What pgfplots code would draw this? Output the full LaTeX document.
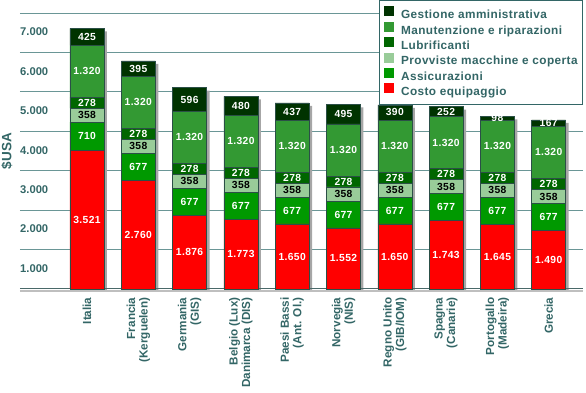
\documentclass[border=0pt]{standalone}
\usepackage{pgfplots}
\pgfplotsset{compat=1.18}
\usepackage{pgfplotstable}
\usepackage{fontspec}
\setmainfont{Liberation Sans}
\newfontfamily\lsfont{Liberation Sans}[LetterSpace=3.5]
\definecolor{tealtxt}{HTML}{336666}
\definecolor{gridc}{HTML}{6A9696}
\definecolor{cGest}{HTML}{003300}
\definecolor{cManu}{HTML}{339933}
\definecolor{cLubr}{HTML}{006600}
\definecolor{cProv}{HTML}{99CC99}
\definecolor{cAssi}{HTML}{009900}
\definecolor{cCost}{HTML}{FF0000}
\definecolor{barline}{HTML}{2B4F47}

\pgfplotstableread{
x c a p l m g t
0 3521 710 358 278 1320 425 6612
1 2760 677 358 278 1320 395 5788
2 1876 677 358 278 1320 596 5105
3 1773 677 358 278 1320 480 4886
4 1650 677 358 278 1320 437 4720
5 1552 677 358 278 1320 495 4680
6 1650 677 358 278 1320 390 4673
7 1743 677 358 278 1320 252 4628
8 1645 677 358 278 1320 98 4376
9 1490 677 358 278 1320 167 4290
}\data

\pgfplotsset{
  geom/.style={scale only axis, width=563pt, height=276pt,
    xmin=-1.306, xmax=9.669, ymin=0, ymax=7000,
    at={(20pt,104pt)}, anchor=south west, clip=false,
    axis line style={draw=none}, tick style={draw=none}, major tick length=0pt},
  seg/.style={fill=#1, draw=barline, line width=0.5pt},
}

\begin{document}
\begin{tikzpicture}
\useasboundingbox (0,0) rectangle (586pt,393pt);
\begin{axis}[geom, ybar, bar width=34pt,
  ytick={1000,2000,...,7000}, yticklabels={}, xtick=\empty,
  ymajorgrids, grid style={draw=gridc, line width=0.8pt}]
\addplot[fill=black!35, draw=none, xshift=3pt, yshift=-3pt] table[x=x,y=t]{\data};
\draw[black!25, line width=2pt] ([yshift=-2pt]axis cs:-1.306,0) -- ([yshift=-2pt]axis cs:9.669,0);
\draw[gridc!70!black, line width=1pt] (axis cs:-1.306,0) -- (axis cs:9.669,0);
\end{axis}
\begin{axis}[geom, ybar stacked, bar width=34pt,
  ytick={1000,2000,...,7000},
  yticklabels={1.000,2.000,3.000,4.000,5.000,6.000,7.000},
  yticklabel style={anchor=west, yshift=-19pt, font=\fontsize{11.2}{13}\selectfont\bfseries, text=tealtxt, inner sep=0pt},
  xtick={0,...,9},
  xticklabels={Italia,{Francia\\(Kerguelen)},{Germania\\(GIS)},{Belgio (Lux)\\Danimarca (DIS)},{Paesi Bassi\\(Ant. Ol.)},{Norvegia\\(NIS)},{Regno Unito\\(GIB/IOM)},{Spagna\\(Canarie)},{Portogallo\\(Madeira)},Grecia},
  xticklabel style={rotate=90, anchor=east, align=right, font=\fontsize{11.7}{12.5}\selectfont\bfseries, text=tealtxt},
  xticklabel shift=5pt,
  ylabel={\$USA},
  ylabel style={at={(axis description cs:-0.013,0.5)}, anchor=south, inner sep=0pt, font=\fontsize{13.5}{15}\selectfont\bfseries, text=tealtxt},
  point meta=explicit,
  nodes near coords={\pgfmathprintnumber[1000 sep={.},assume math mode=true]{\pgfplotspointmeta}},
  every node near coord/.append style={anchor=center, font=\lsfont\fontsize{10.3}{12}\selectfont\bfseries, text=white},
  legend style={at={(1,1.047)}, anchor=north east, draw=tealtxt, line width=0.8pt, fill=white,
    font=\lsfont\fontsize{11.8}{13}\selectfont\bfseries, text=tealtxt,
    inner xsep=5pt, inner ysep=6pt, row sep=0.4pt,
    nodes={inner sep=0pt, text height=8.3pt, text depth=2.7pt},
    /tikz/every odd column/.append style={column sep=7pt}},
  reverse legend,
  legend cell align=left,
  legend image code/.code={\fill[#1,draw=none] (0pt,-0.5pt) rectangle (10pt,9.5pt);},
]
\addplot[seg=cCost] table[x=x,y=c,meta=c]{\data};
\addplot[seg=cAssi] table[x=x,y=a,meta=a]{\data};
\addplot[seg=cProv, every node near coord/.append style={text=black}] table[x=x,y=p,meta=p]{\data};
\addplot[seg=cLubr] table[x=x,y=l,meta=l]{\data};
\addplot[seg=cManu] table[x=x,y=m,meta=m]{\data};
\addplot[seg=cGest] table[x=x,y=g,meta=g]{\data};
\legend{Costo equipaggio,Assicurazioni,Provviste macchine e coperta,Lubrificanti,Manutenzione e riparazioni,Gestione amministrativa}
\end{axis}
\end{tikzpicture}
\end{document}
